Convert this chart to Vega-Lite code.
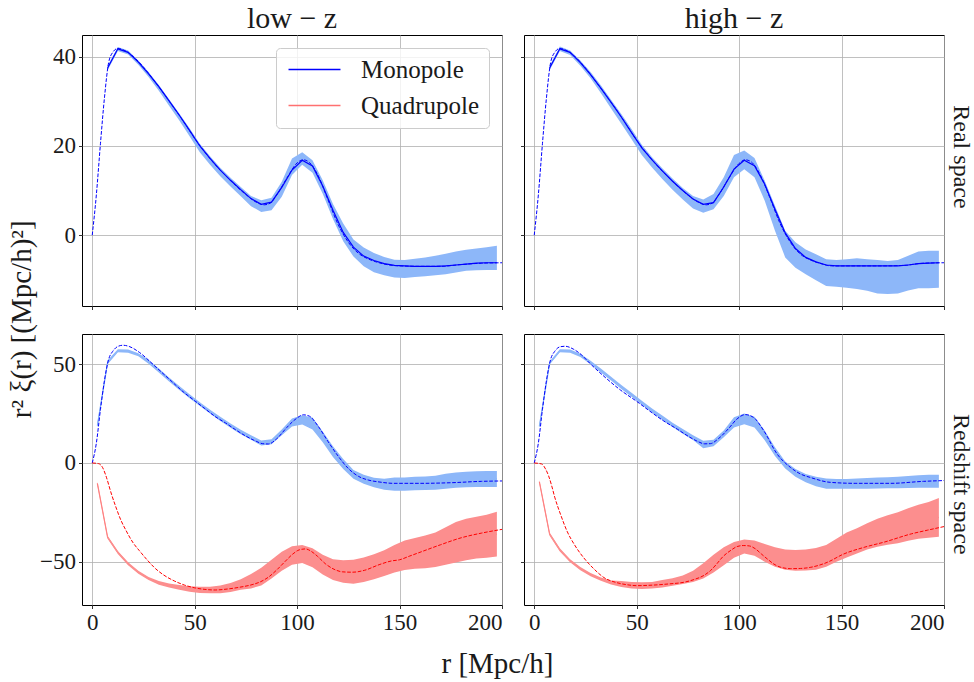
{
"$schema": "https://vega.github.io/schema/vega-lite/v6.json",
"padding": {"left": 8, "top": 3, "right": 2, "bottom": 2},
"background": "white",
"config": {
  "font": "Liberation Serif",
  "view": {"stroke": "#000000", "strokeWidth": 1},
  "axis": {"domain": false, "grid": true, "gridColor": "#b0b0b0", "gridWidth": 0.8, "tickColor": "#000000", "tickWidth": 0.8, "tickSize": 3.5, "labelFont": "Liberation Serif", "labelFontSize": 23, "labelColor": "#1a1a1a", "labelPadding": 3},
  "title": {"font": "Liberation Serif", "fontWeight": "normal", "color": "#1a1a1a"}
},
"datasets": {
  "LR_M": [
    {"c":"Monopole","r":7.5,"m":37.5,"lo":37.0,"hi":38.0},{"c":"Monopole","r":12.5,"m":41.8,"lo":41.3,"hi":42.2},{"c":"Monopole","r":17.5,"m":41.0,"lo":40.5,"hi":41.4},{"c":"Monopole","r":22.5,"m":38.8,"lo":38.2,"hi":39.2},{"c":"Monopole","r":27.5,"m":36.2,"lo":35.5,"hi":36.6},{"c":"Monopole","r":32.5,"m":33.3,"lo":32.4,"hi":33.7},{"c":"Monopole","r":37.5,"m":30.1,"lo":29.0,"hi":30.5},{"c":"Monopole","r":42.5,"m":26.9,"lo":25.7,"hi":27.3},{"c":"Monopole","r":47.5,"m":23.5,"lo":22.2,"hi":24.0},
    {"c":"Monopole","r":52.5,"m":20.0,"lo":18.6,"hi":20.5},{"c":"Monopole","r":57.5,"m":17.2,"lo":15.8,"hi":17.7},{"c":"Monopole","r":62.5,"m":14.6,"lo":13.2,"hi":15.1},{"c":"Monopole","r":67.5,"m":12.3,"lo":10.9,"hi":12.9},{"c":"Monopole","r":72.5,"m":10.2,"lo":8.7,"hi":10.8},{"c":"Monopole","r":77.5,"m":8.2,"lo":6.5,"hi":8.8},{"c":"Monopole","r":82.5,"m":6.9,"lo":5.2,"hi":7.8},{"c":"Monopole","r":87.5,"m":7.4,"lo":5.6,"hi":8.4},{"c":"Monopole","r":92.5,"m":10.7,"lo":8.6,"hi":12.0},{"c":"Monopole","r":97.5,"m":14.6,"lo":13.5,"hi":17.2},
    {"c":"Monopole","r":102.5,"m":16.8,"lo":15.8,"hi":18.6},{"c":"Monopole","r":107.5,"m":15.5,"lo":14.0,"hi":16.8},{"c":"Monopole","r":112.5,"m":11.0,"lo":9.3,"hi":12.3},{"c":"Monopole","r":117.5,"m":5.6,"lo":3.6,"hi":7.0},{"c":"Monopole","r":122.5,"m":0.6,"lo":-1.4,"hi":2.6},{"c":"Monopole","r":127.5,"m":-2.7,"lo":-4.8,"hi":-1.0},{"c":"Monopole","r":132.5,"m":-4.7,"lo":-7.0,"hi":-2.8},{"c":"Monopole","r":137.5,"m":-5.7,"lo":-8.3,"hi":-4.0},{"c":"Monopole","r":142.5,"m":-6.4,"lo":-9.0,"hi":-4.9},{"c":"Monopole","r":147.5,"m":-6.8,"lo":-9.5,"hi":-5.5},
    {"c":"Monopole","r":152.5,"m":-6.9,"lo":-9.6,"hi":-5.6},{"c":"Monopole","r":157.5,"m":-7.0,"lo":-9.4,"hi":-5.3},{"c":"Monopole","r":162.5,"m":-7.0,"lo":-9.2,"hi":-5.0},{"c":"Monopole","r":167.5,"m":-7.0,"lo":-9.0,"hi":-4.6},{"c":"Monopole","r":172.5,"m":-6.9,"lo":-8.8,"hi":-4.2},{"c":"Monopole","r":177.5,"m":-6.7,"lo":-8.4,"hi":-3.7},{"c":"Monopole","r":182.5,"m":-6.5,"lo":-8.0,"hi":-3.3},{"c":"Monopole","r":187.5,"m":-6.3,"lo":-7.9,"hi":-3.0},{"c":"Monopole","r":192.5,"m":-6.2,"lo":-7.8,"hi":-2.7},{"c":"Monopole","r":197.5,"m":-6.2,"lo":-7.8,"hi":-2.4}
  ],
  "HR_M": [
    {"r":7.5,"m":37.5,"lo":37.0,"hi":38.0},{"r":12.5,"m":41.8,"lo":41.3,"hi":42.3},{"r":17.5,"m":41.0,"lo":40.4,"hi":41.4},{"r":22.5,"m":38.7,"lo":38.0,"hi":39.2},{"r":27.5,"m":36.0,"lo":35.2,"hi":36.6},{"r":32.5,"m":33.0,"lo":31.9,"hi":33.6},{"r":37.5,"m":29.8,"lo":28.4,"hi":30.4},{"r":42.5,"m":26.5,"lo":25.0,"hi":27.2},{"r":47.5,"m":23.0,"lo":21.5,"hi":23.8},
    {"r":52.5,"m":19.6,"lo":18.0,"hi":20.3},{"r":57.5,"m":16.9,"lo":15.2,"hi":17.5},{"r":62.5,"m":14.4,"lo":12.6,"hi":15.0},{"r":67.5,"m":12.1,"lo":10.2,"hi":12.7},{"r":72.5,"m":10.0,"lo":8.0,"hi":10.6},{"r":77.5,"m":8.1,"lo":6.0,"hi":8.8},{"r":82.5,"m":6.9,"lo":5.0,"hi":8.0},{"r":87.5,"m":7.3,"lo":5.8,"hi":9.2},{"r":92.5,"m":10.8,"lo":8.8,"hi":13.0},{"r":97.5,"m":14.8,"lo":13.0,"hi":18.0},
    {"r":102.5,"m":16.8,"lo":14.8,"hi":19.0},{"r":107.5,"m":15.6,"lo":13.0,"hi":17.3},{"r":112.5,"m":11.4,"lo":7.7,"hi":12.2},{"r":117.5,"m":5.8,"lo":1.0,"hi":6.6},{"r":122.5,"m":0.5,"lo":-5.0,"hi":1.0},{"r":127.5,"m":-3.0,"lo":-7.3,"hi":-1.6},{"r":132.5,"m":-5.0,"lo":-8.8,"hi":-3.2},{"r":137.5,"m":-6.0,"lo":-10.1,"hi":-4.3},{"r":142.5,"m":-6.7,"lo":-11.4,"hi":-5.4},{"r":147.5,"m":-6.9,"lo":-11.6,"hi":-5.6},
    {"r":152.5,"m":-6.9,"lo":-11.8,"hi":-5.4},{"r":157.5,"m":-6.9,"lo":-12.1,"hi":-5.2},{"r":162.5,"m":-6.9,"lo":-12.5,"hi":-5.4},{"r":167.5,"m":-6.9,"lo":-13.1,"hi":-5.6},{"r":172.5,"m":-6.9,"lo":-13.2,"hi":-5.8},{"r":177.5,"m":-6.9,"lo":-13.1,"hi":-5.6},{"r":182.5,"m":-6.7,"lo":-12.4,"hi":-4.6},{"r":187.5,"m":-6.4,"lo":-11.9,"hi":-3.7},{"r":192.5,"m":-6.3,"lo":-11.9,"hi":-3.5},{"r":197.5,"m":-6.2,"lo":-11.8,"hi":-3.5}
  ],
  "LZ_M": [
    {"r":2.5,"m":18.9,"lo":18.0,"hi":20.0},{"r":7.5,"m":50.9,"lo":50.0,"hi":52.0},{"r":12.5,"m":56.8,"lo":56.0,"hi":57.6},{"r":17.5,"m":56.6,"lo":55.8,"hi":57.4},{"r":22.5,"m":54.8,"lo":54.0,"hi":55.6},{"r":27.5,"m":51.3,"lo":50.3,"hi":52.3},{"r":32.5,"m":46.8,"lo":45.8,"hi":47.8},{"r":37.5,"m":42.3,"lo":41.3,"hi":43.3},{"r":42.5,"m":38.0,"lo":37.0,"hi":39.0},{"r":47.5,"m":33.8,"lo":32.8,"hi":34.8},
    {"r":52.5,"m":29.8,"lo":28.8,"hi":30.8},{"r":57.5,"m":26.0,"lo":25.0,"hi":27.0},{"r":62.5,"m":22.3,"lo":21.2,"hi":23.4},{"r":67.5,"m":18.9,"lo":17.8,"hi":20.0},{"r":72.5,"m":15.7,"lo":14.6,"hi":16.8},{"r":77.5,"m":12.9,"lo":11.8,"hi":14.0},{"r":82.5,"m":10.1,"lo":8.8,"hi":11.4},{"r":87.5,"m":10.7,"lo":9.5,"hi":12.0},{"r":92.5,"m":15.5,"lo":14.0,"hi":17.0},{"r":97.5,"m":20.5,"lo":18.5,"hi":22.5},
    {"r":102.5,"m":21.8,"lo":19.5,"hi":24.2},{"r":107.5,"m":20.0,"lo":17.0,"hi":23.0},{"r":112.5,"m":13.2,"lo":10.5,"hi":16.0},{"r":117.5,"m":5.7,"lo":3.0,"hi":8.5},{"r":122.5,"m":-0.5,"lo":-3.0,"hi":2.0},{"r":127.5,"m":-5.7,"lo":-8.0,"hi":-3.5},{"r":132.5,"m":-8.2,"lo":-10.5,"hi":-6.0},{"r":137.5,"m":-9.9,"lo":-12.3,"hi":-7.5},{"r":142.5,"m":-10.7,"lo":-13.5,"hi":-8.0},{"r":147.5,"m":-10.6,"lo":-14.0,"hi":-7.3},
    {"r":152.5,"m":-10.6,"lo":-14.0,"hi":-7.3},{"r":157.5,"m":-10.4,"lo":-13.8,"hi":-7.0},{"r":162.5,"m":-10.2,"lo":-13.7,"hi":-6.8},{"r":167.5,"m":-10.0,"lo":-13.5,"hi":-6.5},{"r":172.5,"m":-9.3,"lo":-13.0,"hi":-5.5},{"r":177.5,"m":-8.6,"lo":-12.5,"hi":-4.8},{"r":182.5,"m":-8.4,"lo":-12.3,"hi":-4.5},{"r":187.5,"m":-8.2,"lo":-12.2,"hi":-4.2},{"r":192.5,"m":-8.0,"lo":-12.1,"hi":-4.0},{"r":197.5,"m":-8.0,"lo":-12.1,"hi":-4.0}
  ],
  "LZ_Q": [
    {"r":2.5,"m":-10.3,"lo":-11.0,"hi":-9.6},{"r":7.5,"m":-37.6,"lo":-38.4,"hi":-36.8},{"r":12.5,"m":-45.3,"lo":-46.1,"hi":-44.5},{"r":17.5,"m":-51.0,"lo":-51.8,"hi":-50.2},{"r":22.5,"m":-55.3,"lo":-56.1,"hi":-54.5},{"r":27.5,"m":-58.5,"lo":-59.3,"hi":-57.7},{"r":32.5,"m":-60.7,"lo":-61.6,"hi":-59.8},{"r":37.5,"m":-62.0,"lo":-63.0,"hi":-61.0},{"r":42.5,"m":-63.0,"lo":-64.2,"hi":-61.8},{"r":47.5,"m":-63.8,"lo":-65.2,"hi":-62.4},
    {"r":52.5,"m":-64.2,"lo":-65.8,"hi":-62.6},{"r":57.5,"m":-64.3,"lo":-66.0,"hi":-62.6},{"r":62.5,"m":-64.0,"lo":-66.0,"hi":-62.0},{"r":67.5,"m":-63.0,"lo":-65.3,"hi":-60.8},{"r":72.5,"m":-61.5,"lo":-64.2,"hi":-58.8},{"r":77.5,"m":-59.8,"lo":-63.5,"hi":-56.2},{"r":82.5,"m":-57.5,"lo":-62.0,"hi":-53.0},{"r":87.5,"m":-53.8,"lo":-58.5,"hi":-49.0},{"r":92.5,"m":-49.8,"lo":-54.5,"hi":-45.0},{"r":97.5,"m":-46.8,"lo":-51.5,"hi":-42.2},
    {"r":102.5,"m":-46.0,"lo":-50.6,"hi":-41.5},{"r":107.5,"m":-48.0,"lo":-52.8,"hi":-43.2},{"r":112.5,"m":-51.5,"lo":-56.5,"hi":-46.5},{"r":117.5,"m":-54.0,"lo":-59.2,"hi":-48.8},{"r":122.5,"m":-54.9,"lo":-60.6,"hi":-49.2},{"r":127.5,"m":-55.0,"lo":-61.1,"hi":-49.0},{"r":132.5,"m":-54.0,"lo":-60.3,"hi":-47.8},{"r":137.5,"m":-52.5,"lo":-58.8,"hi":-46.2},{"r":142.5,"m":-50.7,"lo":-57.2,"hi":-44.2},{"r":147.5,"m":-48.5,"lo":-55.5,"hi":-41.5},
    {"r":152.5,"m":-46.7,"lo":-54.2,"hi":-39.2},{"r":157.5,"m":-45.7,"lo":-53.5,"hi":-38.0},{"r":162.5,"m":-45.0,"lo":-53.3,"hi":-36.7},{"r":167.5,"m":-44.0,"lo":-52.7,"hi":-35.2},{"r":172.5,"m":-42.0,"lo":-51.5,"hi":-32.5},{"r":177.5,"m":-40.1,"lo":-50.4,"hi":-29.9},{"r":182.5,"m":-38.7,"lo":-49.3,"hi":-28.2},{"r":187.5,"m":-37.8,"lo":-48.4,"hi":-27.2},{"r":192.5,"m":-37.1,"lo":-48.0,"hi":-26.2},{"r":197.5,"m":-36.0,"lo":-47.3,"hi":-24.7}
  ],
  "HZ_M": [
    {"r":2.5,"m":18.5,"lo":17.8,"hi":19.5},{"r":7.5,"m":50.5,"lo":49.8,"hi":51.4},{"r":12.5,"m":56.8,"lo":56.0,"hi":57.6},{"r":17.5,"m":56.6,"lo":55.8,"hi":57.4},{"r":22.5,"m":54.5,"lo":53.6,"hi":55.3},{"r":27.5,"m":50.9,"lo":50.0,"hi":51.8},{"r":32.5,"m":46.8,"lo":45.8,"hi":47.8},{"r":37.5,"m":42.7,"lo":41.7,"hi":43.7},{"r":42.5,"m":38.5,"lo":37.5,"hi":39.5},{"r":47.5,"m":34.5,"lo":33.5,"hi":35.5},
    {"r":52.5,"m":30.5,"lo":29.5,"hi":31.5},{"r":57.5,"m":26.6,"lo":25.6,"hi":27.6},{"r":62.5,"m":22.9,"lo":21.8,"hi":24.0},{"r":67.5,"m":19.3,"lo":18.2,"hi":20.4},{"r":72.5,"m":16.0,"lo":14.8,"hi":17.2},{"r":77.5,"m":12.8,"lo":11.6,"hi":14.0},{"r":82.5,"m":9.3,"lo":7.4,"hi":11.2},{"r":87.5,"m":10.2,"lo":8.5,"hi":11.8},{"r":92.5,"m":14.8,"lo":13.0,"hi":16.5},{"r":97.5,"m":20.6,"lo":18.0,"hi":23.1},
    {"r":102.5,"m":22.3,"lo":19.6,"hi":25.0},{"r":107.5,"m":20.7,"lo":18.0,"hi":23.4},{"r":112.5,"m":14.0,"lo":11.5,"hi":16.5},{"r":117.5,"m":5.8,"lo":3.5,"hi":8.0},{"r":122.5,"m":-1.0,"lo":-2.8,"hi":0.8},{"r":127.5,"m":-5.0,"lo":-7.0,"hi":-3.0},{"r":132.5,"m":-7.7,"lo":-9.8,"hi":-5.6},{"r":137.5,"m":-9.4,"lo":-11.8,"hi":-7.0},{"r":142.5,"m":-10.4,"lo":-13.0,"hi":-7.8},{"r":147.5,"m":-10.6,"lo":-13.1,"hi":-8.1},
    {"r":152.5,"m":-10.6,"lo":-13.1,"hi":-8.1},{"r":157.5,"m":-10.4,"lo":-13.0,"hi":-7.8},{"r":162.5,"m":-10.3,"lo":-13.0,"hi":-7.6},{"r":167.5,"m":-10.2,"lo":-12.9,"hi":-7.4},{"r":172.5,"m":-10.0,"lo":-12.8,"hi":-7.2},{"r":177.5,"m":-9.9,"lo":-12.8,"hi":-7.0},{"r":182.5,"m":-9.7,"lo":-12.7,"hi":-6.6},{"r":187.5,"m":-9.4,"lo":-12.6,"hi":-6.2},{"r":192.5,"m":-9.3,"lo":-12.6,"hi":-6.0},{"r":197.5,"m":-9.3,"lo":-12.6,"hi":-5.9}
  ],
  "HZ_Q": [
    {"r":2.5,"m":-9.5,"lo":-10.2,"hi":-8.8},{"r":7.5,"m":-36.0,"lo":-36.8,"hi":-35.2},{"r":12.5,"m":-44.0,"lo":-44.8,"hi":-43.2},{"r":17.5,"m":-49.5,"lo":-50.3,"hi":-48.7},{"r":22.5,"m":-53.5,"lo":-54.3,"hi":-52.7},{"r":27.5,"m":-56.5,"lo":-57.3,"hi":-55.7},{"r":32.5,"m":-58.8,"lo":-59.6,"hi":-58.0},{"r":37.5,"m":-60.5,"lo":-61.5,"hi":-59.5},{"r":42.5,"m":-61.3,"lo":-62.8,"hi":-59.8},{"r":47.5,"m":-61.9,"lo":-63.6,"hi":-60.2},
    {"r":52.5,"m":-62.1,"lo":-63.8,"hi":-60.4},{"r":57.5,"m":-61.9,"lo":-63.6,"hi":-60.2},{"r":62.5,"m":-61.2,"lo":-63.0,"hi":-59.3},{"r":67.5,"m":-60.3,"lo":-62.2,"hi":-58.3},{"r":72.5,"m":-59.2,"lo":-61.3,"hi":-57.0},{"r":77.5,"m":-57.4,"lo":-60.3,"hi":-54.5},{"r":82.5,"m":-54.6,"lo":-58.5,"hi":-50.8},{"r":87.5,"m":-51.0,"lo":-55.4,"hi":-46.5},{"r":92.5,"m":-47.2,"lo":-51.8,"hi":-42.7},{"r":97.5,"m":-44.0,"lo":-48.0,"hi":-40.0},
    {"r":102.5,"m":-42.2,"lo":-45.8,"hi":-38.7},{"r":107.5,"m":-43.1,"lo":-47.0,"hi":-39.2},{"r":112.5,"m":-45.5,"lo":-50.0,"hi":-41.0},{"r":117.5,"m":-47.5,"lo":-52.5,"hi":-42.6},{"r":122.5,"m":-49.0,"lo":-54.1,"hi":-43.8},{"r":127.5,"m":-49.3,"lo":-54.6,"hi":-44.0},{"r":132.5,"m":-49.1,"lo":-54.4,"hi":-43.8},{"r":137.5,"m":-48.5,"lo":-54.0,"hi":-43.1},{"r":142.5,"m":-47.0,"lo":-52.5,"hi":-41.5},{"r":147.5,"m":-44.2,"lo":-50.0,"hi":-38.3},
    {"r":152.5,"m":-41.5,"lo":-47.8,"hi":-35.2},{"r":157.5,"m":-39.4,"lo":-45.8,"hi":-33.0},{"r":162.5,"m":-37.2,"lo":-43.8,"hi":-30.5},{"r":167.5,"m":-35.3,"lo":-42.4,"hi":-28.2},{"r":172.5,"m":-34.0,"lo":-41.4,"hi":-26.5},{"r":177.5,"m":-32.8,"lo":-40.6,"hi":-25.0},{"r":182.5,"m":-31.2,"lo":-39.4,"hi":-22.9},{"r":187.5,"m":-29.8,"lo":-38.3,"hi":-21.2},{"r":192.5,"m":-28.8,"lo":-37.8,"hi":-19.8},{"r":197.5,"m":-27.5,"lo":-37.3,"hi":-17.7}
  ],
  "T_LR_M": [
    {"r":0,"v":0},{"r":2,"v":9},{"r":4,"v":20.5},{"r":6,"v":31},{"r":8,"v":38.7},{"r":10,"v":41.0},{"r":12.5,"v":41.9},{"r":15,"v":41.6},{"r":20,"v":40.1},{"r":25,"v":37.7},{"r":30,"v":34.8},{"r":35,"v":31.7},{"r":40,"v":28.5},{"r":45,"v":25.2},{"r":50,"v":21.7},{"r":55,"v":18.6},{"r":60,"v":15.8},{"r":65,"v":13.4},{"r":70,"v":11.1},{"r":75,"v":9.1},{"r":80,"v":7.4},{"r":84,"v":6.8},{"r":87,"v":7.2},{"r":90,"v":9.0},{"r":95,"v":12.8},{"r":100,"v":16.2},{"r":103,"v":16.9},{"r":106,"v":16.3},{"r":110,"v":13.6},{"r":115,"v":8.0},{"r":120,"v":2.4},{"r":125,"v":-1.6},{"r":130,"v":-4.1},{"r":135,"v":-5.4},{"r":140,"v":-6.2},{"r":145,"v":-6.7},{"r":150,"v":-6.9},{"r":160,"v":-7.0},{"r":170,"v":-7.0},{"r":180,"v":-6.6},{"r":190,"v":-6.3},{"r":200,"v":-6.2}
  ],
  "T_HR_M": [
    {"r":0,"v":0},{"r":2,"v":9},{"r":4,"v":20.5},{"r":6,"v":31},{"r":8,"v":38.7},{"r":10,"v":41.0},{"r":12.5,"v":41.9},{"r":15,"v":41.6},{"r":20,"v":40.0},{"r":25,"v":37.5},{"r":30,"v":34.5},{"r":35,"v":31.4},{"r":40,"v":28.2},{"r":45,"v":24.8},{"r":50,"v":21.3},{"r":55,"v":18.3},{"r":60,"v":15.6},{"r":65,"v":13.2},{"r":70,"v":11.0},{"r":75,"v":9.0},{"r":80,"v":7.4},{"r":84,"v":6.8},{"r":87,"v":7.2},{"r":90,"v":9.0},{"r":95,"v":12.8},{"r":100,"v":16.1},{"r":103,"v":16.9},{"r":106,"v":16.4},{"r":110,"v":13.8},{"r":115,"v":8.4},{"r":120,"v":2.6},{"r":125,"v":-1.6},{"r":130,"v":-4.3},{"r":135,"v":-5.6},{"r":140,"v":-6.4},{"r":145,"v":-6.9},{"r":150,"v":-6.9},{"r":160,"v":-6.9},{"r":170,"v":-6.9},{"r":180,"v":-6.8},{"r":190,"v":-6.3},{"r":200,"v":-6.2}
  ],
  "T_LZ_M": [
    {"r":0,"v":0},{"r":2,"v":10},{"r":4,"v":27},{"r":6,"v":42},{"r":8,"v":52.5},{"r":10,"v":56.5},{"r":12.5,"v":59.0},{"r":15,"v":59.6},{"r":18,"v":59.0},{"r":23,"v":56.0},{"r":30,"v":49.6},{"r":37.5,"v":42.5},{"r":45,"v":35.5},{"r":50,"v":31.5},{"r":55,"v":27.5},{"r":60,"v":23.5},{"r":65,"v":20.3},{"r":70,"v":16.8},{"r":75,"v":13.6},{"r":80,"v":11.0},{"r":83,"v":9.8},{"r":86,"v":9.6},{"r":90,"v":12.2},{"r":95,"v":18.0},{"r":100,"v":22.8},{"r":103,"v":24.4},{"r":106,"v":23.7},{"r":110,"v":19.0},{"r":115,"v":11.0},{"r":120,"v":3.5},{"r":125,"v":-2.8},{"r":130,"v":-6.8},{"r":135,"v":-8.7},{"r":140,"v":-9.6},{"r":147,"v":-10.3},{"r":160,"v":-10.3},{"r":175,"v":-10.0},{"r":190,"v":-9.3},{"r":200,"v":-9.1}
  ],
  "T_LZ_Q": [
    {"r":0,"v":0},{"r":3,"v":-0.3},{"r":5,"v":-2.2},{"r":7,"v":-7.5},{"r":9,"v":-14.5},{"r":11.5,"v":-22.2},{"r":14,"v":-29},{"r":16.5,"v":-34.2},{"r":20,"v":-40.5},{"r":23,"v":-44.4},{"r":27,"v":-49.3},{"r":31,"v":-53.6},{"r":35,"v":-56.8},{"r":40,"v":-59.7},{"r":45,"v":-61.8},{"r":50,"v":-63.2},{"r":55,"v":-64.0},{"r":60,"v":-64.3},{"r":66,"v":-63.8},{"r":72,"v":-62.9},{"r":78,"v":-61.6},{"r":82,"v":-60.2},{"r":86,"v":-57.8},{"r":90,"v":-54.2},{"r":94,"v":-50.0},{"r":98,"v":-46.0},{"r":101,"v":-44.0},{"r":104,"v":-43.5},{"r":107,"v":-44.8},{"r":110,"v":-47.3},{"r":114,"v":-51.2},{"r":118,"v":-53.8},{"r":122,"v":-55.1},{"r":127,"v":-55.3},{"r":133,"v":-54.3},{"r":140,"v":-51.5},{"r":146,"v":-49.6},{"r":150,"v":-49.0},{"r":155,"v":-47.1},{"r":160,"v":-45.2},{"r":170,"v":-41.4},{"r":180,"v":-37.9},{"r":190,"v":-35.5},{"r":200,"v":-33.6}
  ],
  "T_HZ_M": [
    {"r":0,"v":0},{"r":2,"v":10},{"r":4,"v":27},{"r":6,"v":42},{"r":8,"v":52.5},{"r":10,"v":56.5},{"r":12.5,"v":58.8},{"r":15,"v":59.1},{"r":19,"v":57.7},{"r":23,"v":54.8},{"r":27,"v":50.6},{"r":35,"v":43.0},{"r":42,"v":37.0},{"r":50,"v":31.2},{"r":57,"v":25.8},{"r":63,"v":21.4},{"r":70,"v":17.0},{"r":76,"v":13.0},{"r":80,"v":10.8},{"r":83,"v":9.7},{"r":86,"v":9.8},{"r":90,"v":12.4},{"r":95,"v":17.6},{"r":99,"v":22.3},{"r":103,"v":24.5},{"r":107,"v":23.1},{"r":112,"v":16.4},{"r":118.5,"v":4.6},{"r":125,"v":-2.2},{"r":130,"v":-5.6},{"r":135,"v":-7.4},{"r":144.5,"v":-9.8},{"r":157,"v":-10.3},{"r":174,"v":-10.3},{"r":190,"v":-9.3},{"r":200,"v":-8.9}
  ],
  "T_HZ_Q": [
    {"r":0,"v":0},{"r":3.6,"v":-0.5},{"r":5.5,"v":-3.0},{"r":7,"v":-6.5},{"r":8.5,"v":-11.5},{"r":10,"v":-17.3},{"r":13,"v":-26.5},{"r":16,"v":-34.5},{"r":20,"v":-42},{"r":24,"v":-47.8},{"r":29,"v":-53.5},{"r":34,"v":-58.0},{"r":40,"v":-60.5},{"r":45,"v":-61.6},{"r":50,"v":-62.1},{"r":60,"v":-61.7},{"r":66,"v":-61.2},{"r":73,"v":-60.4},{"r":78,"v":-59.0},{"r":83,"v":-56.8},{"r":86,"v":-54.5},{"r":89,"v":-51.2},{"r":92,"v":-47.5},{"r":96,"v":-44.2},{"r":99,"v":-42.3},{"r":102,"v":-41.8},{"r":105,"v":-42.0},{"r":108,"v":-43.5},{"r":111,"v":-46.2},{"r":114,"v":-48.8},{"r":117,"v":-51.2},{"r":120,"v":-52.7},{"r":125,"v":-53.5},{"r":130,"v":-53.4},{"r":135,"v":-52.8},{"r":143,"v":-50.3},{"r":151,"v":-46.1},{"r":161,"v":-42.7},{"r":171,"v":-40.0},{"r":184,"v":-35.9},{"r":192,"v":-34.0},{"r":200,"v":-32.2}
  ]
},
"title": {"text": "r [Mpc/h]", "orient": "bottom", "anchor": "middle", "fontSize": 29, "offset": 15, "dx": 7},
"resolve": {"scale": {"x": "independent", "y": "independent", "stroke": "independent"}, "legend": {"stroke": "independent"}},
"vconcat": [
  {
    "title": {"text": "r² ξ(r) [(Mpc/h)²]", "orient": "left", "anchor": "middle", "fontSize": 29, "offset": 2},
    "spacing": 22,
    "resolve": {"scale": {"x": "independent", "y": "independent", "stroke": "independent"}, "legend": {"stroke": "independent"}},
    "vconcat": [
      {
        "title": {"text": "Real space", "orient": "right", "anchor": "middle", "fontSize": 24, "offset": 4},
        "spacing": 22,
        "bounds": "flush",
        "resolve": {"scale": {"x": "independent", "y": "independent", "stroke": "independent"}, "legend": {"stroke": "independent"}},
        "hconcat": [
          {
            "width": 420, "height": 271,
            "title": {"text": "low − z", "orient": "top", "anchor": "middle", "fontSize": 30, "offset": 1},
            "layer": [
              {"data": {"name": "LR_M"}, "mark": {"type": "area", "color": "#8db7f9", "clip": true},
               "encoding": {
                 "x": {"field": "r", "type": "quantitative", "scale": {"domain": [-5, 200], "nice": false, "zero": false}, "axis": {"values": [0, 50, 100, 150, 200], "labels": false, "title": null}},
                 "y": {"field": "lo", "type": "quantitative", "scale": {"domain": [-15.9, 44.9], "nice": false, "zero": false}, "axis": {"values": [0, 20, 40], "title": null, "labelExpr": "replace(datum.label, '-', '−')"}},
                 "y2": {"field": "hi"}}},
              {"data": {"name": "LR_M"}, "mark": {"type": "line", "strokeWidth": 1.2, "clip": true},
               "encoding": {
                 "x": {"field": "r", "type": "quantitative"},
                 "y": {"field": "m", "type": "quantitative"},
                 "stroke": {"field": "c", "type": "nominal", "scale": {"domain": ["Monopole", "Quadrupole"], "range": ["#0000ff", "#ff7070"]},
                   "legend": {"orient": "top-right", "title": null, "offset": 13, "padding": 9, "labelFontSize": 25, "labelFont": "Liberation Serif", "labelColor": "#1a1a1a", "symbolType": "M-3,-0.08H3V0.08H-3Z", "symbolSize": 300, "symbolOffset": 17, "symbolStrokeWidth": 0, "labelOffset": 34, "rowPadding": 10, "fillColor": "rgba(255,255,255,0.8)", "strokeColor": "#cccccc", "cornerRadius": 4,
                     "encode": {"symbols": {"update": {"fill": {"signal": "datum.value === 'Monopole' ? '#0000ff' : '#ff7070'"}, "fillOpacity": {"value": 1}, "opacity": {"value": 1}, "stroke": {"value": "transparent"}}}}}}}},
              {"data": {"name": "T_LR_M"}, "mark": {"type": "line", "color": "#0000ff", "strokeWidth": 1, "strokeDash": [3.7, 1.6], "interpolate": "monotone", "clip": true},
               "encoding": {"x": {"field": "r", "type": "quantitative"}, "y": {"field": "v", "type": "quantitative"}}}
            ]
          },
          {
            "width": 420, "height": 271,
            "title": {"text": "high − z", "orient": "top", "anchor": "middle", "fontSize": 30, "offset": 1},
            "layer": [
              {"data": {"name": "HR_M"}, "mark": {"type": "area", "color": "#8db7f9", "clip": true},
               "encoding": {
                 "x": {"field": "r", "type": "quantitative", "scale": {"domain": [-5, 200], "nice": false, "zero": false}, "axis": {"values": [0, 50, 100, 150, 200], "labels": false, "title": null}},
                 "y": {"field": "lo", "type": "quantitative", "scale": {"domain": [-15.9, 44.9], "nice": false, "zero": false}, "axis": {"values": [0, 20, 40], "labels": false, "title": null}},
                 "y2": {"field": "hi"}}},
              {"data": {"name": "HR_M"}, "mark": {"type": "line", "color": "#0000ff", "strokeWidth": 1.2, "clip": true},
               "encoding": {"x": {"field": "r", "type": "quantitative"}, "y": {"field": "m", "type": "quantitative"}}},
              {"data": {"name": "T_HR_M"}, "mark": {"type": "line", "color": "#0000ff", "strokeWidth": 1, "strokeDash": [3.7, 1.6], "interpolate": "monotone", "clip": true},
               "encoding": {"x": {"field": "r", "type": "quantitative"}, "y": {"field": "v", "type": "quantitative"}}}
            ]
          }
        ]
      },
      {
        "title": {"text": "Redshift space", "orient": "right", "anchor": "middle", "fontSize": 24, "offset": 4},
        "spacing": 22,
        "bounds": "flush",
        "resolve": {"scale": {"x": "independent", "y": "independent"}},
        "hconcat": [
          {
            "width": 420, "height": 271,
            "layer": [
              {"data": {"name": "LZ_M"}, "mark": {"type": "line", "color": "#74a4f6", "strokeWidth": 1.2, "clip": true},
               "encoding": {
                 "x": {"field": "r", "type": "quantitative", "scale": {"domain": [-5, 200], "nice": false, "zero": false}, "axis": {"values": [0, 50, 100, 150, 200], "title": null}},
                 "y": {"field": "m", "type": "quantitative", "scale": {"domain": [-71.9, 65.3], "nice": false, "zero": false}, "axis": {"values": [-50, 0, 50], "title": null, "labelExpr": "replace(datum.label, '-', '−')"}}}},
              {"data": {"name": "LZ_Q"}, "mark": {"type": "line", "color": "#ff7070", "strokeWidth": 1.2, "clip": true},
               "encoding": {"x": {"field": "r", "type": "quantitative"}, "y": {"field": "m", "type": "quantitative"}}},
              {"data": {"name": "LZ_M"}, "mark": {"type": "area", "color": "#8db7f9", "clip": true},
               "encoding": {"x": {"field": "r", "type": "quantitative"}, "y": {"field": "lo", "type": "quantitative"}, "y2": {"field": "hi"}}},
              {"data": {"name": "LZ_Q"}, "mark": {"type": "area", "color": "#fc8e8e", "clip": true},
               "encoding": {"x": {"field": "r", "type": "quantitative"}, "y": {"field": "lo", "type": "quantitative"}, "y2": {"field": "hi"}}},
              {"data": {"name": "T_LZ_M"}, "mark": {"type": "line", "color": "#0000ff", "strokeWidth": 1, "strokeDash": [3.7, 1.6], "interpolate": "monotone", "clip": true},
               "encoding": {"x": {"field": "r", "type": "quantitative"}, "y": {"field": "v", "type": "quantitative"}}},
              {"data": {"name": "T_LZ_Q"}, "mark": {"type": "line", "color": "#ff0000", "strokeWidth": 1, "strokeDash": [3.7, 1.6], "interpolate": "monotone", "clip": true},
               "encoding": {"x": {"field": "r", "type": "quantitative"}, "y": {"field": "v", "type": "quantitative"}}}
            ]
          },
          {
            "width": 420, "height": 271,
            "layer": [
              {"data": {"name": "HZ_M"}, "mark": {"type": "line", "color": "#74a4f6", "strokeWidth": 1.2, "clip": true},
               "encoding": {
                 "x": {"field": "r", "type": "quantitative", "scale": {"domain": [-5, 200], "nice": false, "zero": false}, "axis": {"values": [0, 50, 100, 150, 200], "title": null}},
                 "y": {"field": "m", "type": "quantitative", "scale": {"domain": [-71.9, 65.3], "nice": false, "zero": false}, "axis": {"values": [-50, 0, 50], "labels": false, "title": null}}}},
              {"data": {"name": "HZ_Q"}, "mark": {"type": "line", "color": "#ff7070", "strokeWidth": 1.2, "clip": true},
               "encoding": {"x": {"field": "r", "type": "quantitative"}, "y": {"field": "m", "type": "quantitative"}}},
              {"data": {"name": "HZ_M"}, "mark": {"type": "area", "color": "#8db7f9", "clip": true},
               "encoding": {"x": {"field": "r", "type": "quantitative"}, "y": {"field": "lo", "type": "quantitative"}, "y2": {"field": "hi"}}},
              {"data": {"name": "HZ_Q"}, "mark": {"type": "area", "color": "#fc8e8e", "clip": true},
               "encoding": {"x": {"field": "r", "type": "quantitative"}, "y": {"field": "lo", "type": "quantitative"}, "y2": {"field": "hi"}}},
              {"data": {"name": "T_HZ_M"}, "mark": {"type": "line", "color": "#0000ff", "strokeWidth": 1, "strokeDash": [3.7, 1.6], "interpolate": "monotone", "clip": true},
               "encoding": {"x": {"field": "r", "type": "quantitative"}, "y": {"field": "v", "type": "quantitative"}}},
              {"data": {"name": "T_HZ_Q"}, "mark": {"type": "line", "color": "#ff0000", "strokeWidth": 1, "strokeDash": [3.7, 1.6], "interpolate": "monotone", "clip": true},
               "encoding": {"x": {"field": "r", "type": "quantitative"}, "y": {"field": "v", "type": "quantitative"}}}
            ]
          }
        ]
      }
    ]
  }
]
}
